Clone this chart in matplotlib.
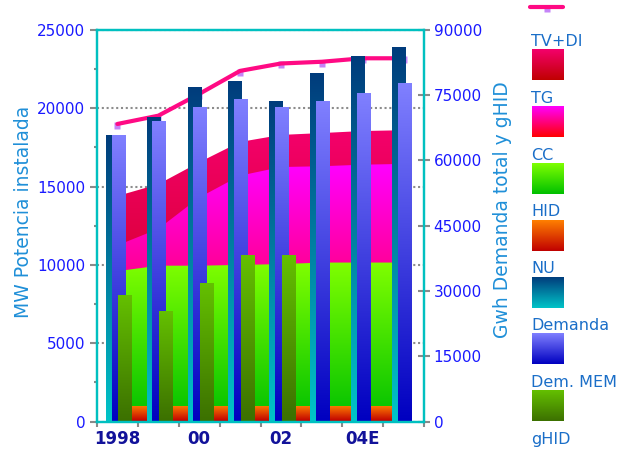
import numpy as np
import matplotlib
matplotlib.use("Agg")
import matplotlib.pyplot as plt
from matplotlib.colors import to_rgb
from matplotlib.path import Path
from matplotlib.markers import MarkerStyle
from matplotlib.ticker import MultipleLocator

# ---------------- data ----------------
years = ["1998", "1999", "2000", "2001", "2002", "2003", "2004E", "2005E"]
year_labels = ["1998", "", "00", "", "02", "", "04E", ""]

# installed capacity by technology (MW), stacked from the bottom up
hid = [1000, 1000, 1000, 1000, 1000, 1000, 1000, 1000]
cc = [8600, 8950, 8950, 9000, 9050, 9150, 9150, 9150]
tg = [1650, 2350, 4350, 5700, 6200, 6150, 6250, 6300]
tv_di = [3150, 2850, 2250, 2150, 2050, 2120, 2150, 2150]

nu = [18200, 19400, 21300, 21700, 20400, 22200, 23300, 23850]            # MW
dem_mem = [8000, 7000, 8750, 10550, 10550, np.nan, np.nan, np.nan]       # MW
demanda = [65600, 68900, 72100, 73900, 72100, 73500, 75300, 77600]       # GWh
demanda_total = [68400, 70300, 75300, 80600, 82300, 82700, 83500, 83500] # GWh

legend_labels = ["TV+DI", "TG", "CC", "HID", "NU", "Demanda", "Dem. MEM", "gHID"]

# ---------------- style ----------------
C_TVDI = ("#f4006c", "#c00000")
C_TG = ("#ff00ff", "#ff0000")
C_CC = ("#80ff00", "#00c000")
C_HID = ("#ff8000", "#c00000")
C_NU = ("#003c7c", "#00c4c8")
C_DEM = ("#8080ff", "#0000c0")
C_MEM = ("#64c000", "#3c7000")
LINE = "#ff0a84"
MARK = "#c584f8"
CYAN = "#00c0c0"
TICK = "#8a8a8a"
TICKLBL = "#1a1aff"
XLBL = "#12129a"
AXLBL = "#1f8fd8"
LEG = "#1a6ec8"
BAR_W = 0.33

W, H = 636, 449
fig = plt.figure(figsize=(W / 100, H / 100), dpi=100, facecolor="white")


def vgrad(top, bottom, n=256):
    t = np.linspace(0.0, 1.0, n)[:, None]
    c0 = np.array(to_rgb(bottom))
    c1 = np.array(to_rgb(top))
    return (c0 + (c1 - c0) * t)[:, None, :]


ax = fig.add_axes([97 / W, 1 - 421.5 / H, (424 - 97) / W, (421.5 - 30) / H])
ax2 = ax.twinx()
ax.set_xlim(-0.5, 7.5)
ax.set_ylim(0, 25000)
ax2.set_ylim(0, 90000)
ax.set_autoscale_on(False)
ax2.set_autoscale_on(False)
right = ax2.transData

x = np.arange(len(years))

# stacked capacity areas with vertical gradients
cum = np.cumsum(np.array([hid, cc, tg, tv_di], dtype=float), axis=0)
band_colors = [C_HID, C_CC, C_TG, C_TVDI]
for k in reversed(range(4)):
    top = cum[k]
    poly = ax.fill_between(x, 0, top, facecolor="none", edgecolor="none", zorder=1)
    im = ax.imshow(vgrad(*band_colors[k]), origin="lower",
                   extent=[x[0], x[-1], 0, top.max()], aspect="auto",
                   interpolation="bilinear", zorder=1 + (3 - k) * 0.01)
    im.set_clip_path(poly.get_paths()[0], poly.get_transform())


def grad_bars(vals, offset, colors, trans, z):
    v = np.asarray(vals, dtype=float)
    ok = np.isfinite(v)
    bars = ax.bar(x[ok] + offset, v[ok], BAR_W, color="none", edgecolor="none",
                  transform=trans, zorder=z)
    for p in bars.patches:
        x0, w, h = p.get_x(), p.get_width(), p.get_height()
        ax.imshow(vgrad(*colors), origin="lower", extent=[x0, x0 + w, 0, h],
                  aspect="auto", interpolation="bilinear", transform=trans, zorder=z)


# demand line (right axis) sits behind the bars; square markers peek out below it
mk_path = Path([(-1, -1.3), (1, -1.3), (1, 0.7), (-1, 0.7), (-1, -1.3)],
               [Path.MOVETO, Path.LINETO, Path.LINETO, Path.LINETO, Path.CLOSEPOLY])
mk = MarkerStyle(mk_path)
ax.plot(x, demanda_total, ls="none", marker=mk, ms=6.5, mfc=MARK, mec="none",
        transform=right, zorder=2)
ax.plot(x, demanda_total, color=LINE, lw=3, solid_capstyle="round",
        transform=right, zorder=2.1)

grad_bars(nu, -0.12, C_NU, ax.transData, 3)
grad_bars(demanda, 0.02, C_DEM, right, 4)
grad_bars(dem_mem, 0.18, C_MEM, ax.transData, 5)

# grid
ax.set_axisbelow(True)
ax.yaxis.grid(True, which="major", color="#8c8c8c", lw=1.5, linestyle=(0, (1, 1.3)))
ax.xaxis.grid(False)

# spines
for a in (ax, ax2):
    for s in a.spines.values():
        s.set_color(CYAN)
        s.set_linewidth(1.6)
        s.set_zorder(10)

# ticks
ax.yaxis.set_major_locator(MultipleLocator(5000))
ax.yaxis.set_minor_locator(MultipleLocator(2500))
ax.tick_params(axis="y", which="major", direction="out", length=5, width=1.5,
               color=TICK, labelcolor=TICKLBL, labelsize=11, pad=3.5)
ax.tick_params(axis="y", which="minor", direction="out", length=2, width=1.5, color=TICK)
ax2.yaxis.set_major_locator(MultipleLocator(15000))
ax2.tick_params(axis="y", which="major", direction="inout", length=8, width=1.5,
                color=TICK, labelcolor=TICKLBL, labelsize=11, pad=3)

ax.set_xticks(np.arange(-0.5, 8.0, 1.0))
ax.set_xticklabels([])
ax.set_xticks(x, minor=True)
ax.set_xticklabels(year_labels, minor=True, fontweight="bold", fontsize=12, color=XLBL)
ax.tick_params(axis="x", which="major", direction="out", length=3.5, width=1.5, color=TICK)
ax.tick_params(axis="x", which="minor", length=0, pad=6)

# axis titles
fig.text(24 / W, 1 - 212 / H, "MW Potencia instalada", rotation=90, ha="center",
         va="center", fontsize=13.5, color=AXLBL)
fig.text(503 / W, 1 - 210 / H, "Gwh Demanda total y gHID", rotation=90, ha="center",
         va="center", fontsize=13.5, color=AXLBL)

# legend drawn in pixel coordinates
lg = fig.add_axes([0, 0, 1, 1])
lg.set_xlim(0, W)
lg.set_ylim(H, 0)
lg.set_axis_off()
lg.patch.set_visible(False)
lg.plot([530, 563], [7.3, 7.3], color=LINE, lw=3, solid_capstyle="round", zorder=2)
lg.plot([547], [7.3], ls="none", marker=mk, ms=6.5, mfc=MARK, mec="none", zorder=1)
swatch_colors = [C_TVDI, C_TG, C_CC, C_HID, C_NU, C_DEM, C_MEM]
for i, lab in enumerate(legend_labels):
    lg.text(531, 46 + i * 56.8, lab, fontsize=11.5, color=LEG, va="baseline", ha="left")
    if i < len(swatch_colors):
        top = 49 + i * 56.9
        lg.imshow(vgrad(*swatch_colors[i]), origin="lower",
                  extent=[532, 564, top + 31, top], aspect="auto",
                  interpolation="bilinear")

fig.savefig("out.png", dpi=100, facecolor="white")
